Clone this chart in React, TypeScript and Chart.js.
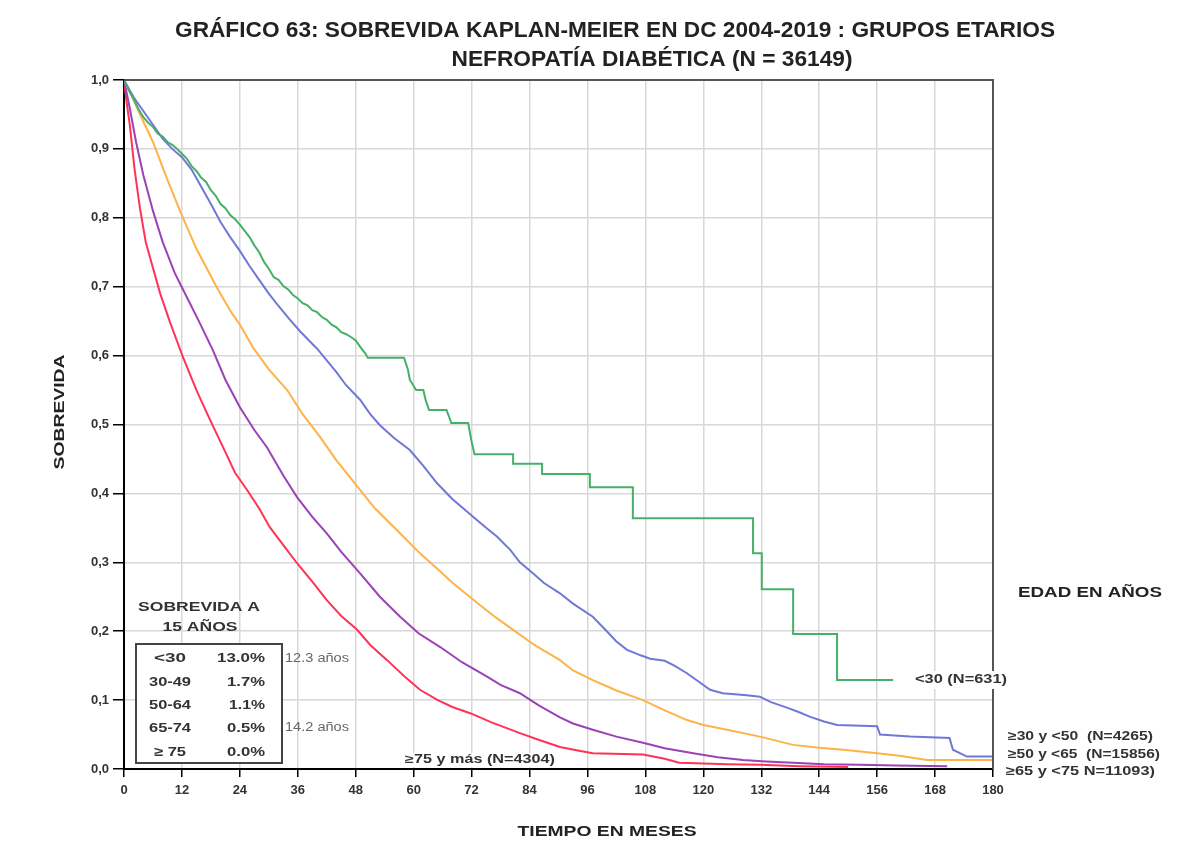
import React, { useEffect, useRef } from 'react';
import { Chart, registerables } from 'chart.js';

Chart.register(...registerables);

// ---- Data (months, survival) ----
const greenT = [0,1,2,3,4,5,6,7,8,9,10,11,12,13,14,15,16,17,18,19,20,21,22,23,24,25,26,27,28,29,30,31,32,33,34,35,36,37,38,39,40,41,42,43,44,45,46,47,48,49,50,50.5,58,58.8,59.2,60.5,62,62.5,63.2,66.8,67.3,67.8,71.3,71.6,72,72.6,80.6,80.6,86.6,86.6,96.5,96.5,105.4,105.4,130.3,130.3,132.1,132.1,138.6,138.6,147.7,147.7,159.3];
const greenS = [1.0,0.985,0.972,0.958,0.946,0.938,0.932,0.922,0.918,0.91,0.906,0.9,0.893,0.886,0.875,0.868,0.858,0.852,0.84,0.832,0.82,0.814,0.804,0.798,0.79,0.781,0.772,0.76,0.75,0.736,0.726,0.714,0.71,0.701,0.696,0.688,0.683,0.676,0.673,0.666,0.663,0.656,0.652,0.645,0.641,0.634,0.631,0.627,0.622,0.612,0.603,0.597,0.597,0.58,0.565,0.55,0.55,0.535,0.521,0.521,0.512,0.502,0.502,0.49,0.475,0.457,0.457,0.443,0.443,0.428,0.428,0.409,0.409,0.364,0.364,0.313,0.313,0.261,0.261,0.196,0.196,0.129,0.129];

const blueT = [0,2,4,6,8,10,12,14,16,18,20,22,24,26,28,30,32,34,36.5,40,44,46,48.9,51,53,56,59.2,62,64.8,68,72.3,75,77.3,80,82,84.7,87,90.3,93,97.1,100,102,104.2,107,109,112,114,116.6,119,121.4,124,129,131.7,134,137.3,140,142,145,147.7,156,156.6,162.8,171,171.7,174.6,180];
const blueS = [1.0,0.975,0.955,0.935,0.915,0.9,0.888,0.87,0.845,0.82,0.794,0.772,0.752,0.73,0.71,0.69,0.672,0.655,0.635,0.61,0.576,0.557,0.536,0.515,0.499,0.48,0.463,0.44,0.415,0.392,0.366,0.35,0.337,0.318,0.3,0.284,0.27,0.255,0.24,0.221,0.2,0.185,0.173,0.165,0.16,0.157,0.15,0.139,0.127,0.115,0.11,0.107,0.105,0.097,0.089,0.082,0.076,0.069,0.064,0.062,0.05,0.047,0.045,0.028,0.018,0.018];

const orangeT = [0,1.2,3,6,9,11.6,15,19.3,22,24,26.7,30,33.8,37,40.6,44,48.9,52,56.5,61.3,65,68.1,73.7,77,80.6,85,90.3,93,97.1,102,107.5,112,116.6,120,124.9,131.7,138.6,144,149,156,161,166.3,180];
const orangeS = [1.0,0.983,0.955,0.91,0.855,0.81,0.755,0.698,0.665,0.645,0.612,0.58,0.55,0.515,0.482,0.448,0.405,0.378,0.347,0.313,0.29,0.27,0.238,0.22,0.202,0.18,0.158,0.143,0.129,0.114,0.1,0.085,0.071,0.064,0.057,0.047,0.035,0.031,0.028,0.023,0.019,0.013,0.013];

const purpleT = [0,1.2,2.5,4,6,8,10.5,13,15.5,18.4,21,24,27,29.6,33,35.8,39,42,45,48.9,53,57.2,61,65.5,70,75.2,78,82,86,90.3,93,97.1,102,107.5,112,117.9,123,128.2,133,138.6,145,152.4,160,170.5];
const purpleS = [1.0,0.959,0.91,0.862,0.81,0.765,0.72,0.685,0.65,0.608,0.565,0.525,0.492,0.467,0.426,0.395,0.366,0.342,0.315,0.284,0.25,0.221,0.197,0.177,0.155,0.134,0.122,0.11,0.092,0.075,0.066,0.057,0.047,0.038,0.03,0.023,0.017,0.013,0.011,0.009,0.007,0.006,0.005,0.004];

const redT = [0,0.6,1.2,2.2,3.3,4.5,6,7.5,9.5,12.2,15,17.8,21,23,25.5,28,30.2,33,35.8,39,42,45,48.3,51,54.5,58,61.3,65,68,71.7,76,82,86,90.3,94,97.1,107.5,112,115,125,131.7,140,150];
const redS = [1.0,0.965,0.935,0.87,0.814,0.765,0.727,0.69,0.649,0.598,0.55,0.507,0.46,0.43,0.405,0.378,0.351,0.325,0.299,0.272,0.245,0.222,0.202,0.18,0.158,0.135,0.115,0.1,0.09,0.081,0.068,0.052,0.042,0.032,0.027,0.023,0.021,0.015,0.009,0.007,0.006,0.004,0.003];

const seriesNames = ['<30', '≥30 y <50', '≥50 y <65', '≥65 y <75', '≥75'];
const seriesColors = ['#45b068', '#7078d6', '#fdb347', '#9b42b6', '#ff3355'];

const tableAges = ['<30', '30-49', '50-64', '65-74', '≥ 75'];
const tableSurv = ['13.0%', '1.7%', '1.1%', '0.5%', '0.0%'];
const rightLabels = ['≥30 y <50  (N=4265)', '≥50 y <65  (N=15856)', '≥65 y <75 N=11093)'];

const xTicks = [0, 12, 24, 36, 48, 60, 72, 84, 96, 108, 120, 132, 144, 156, 168, 180];

const FONT = '"Liberation Sans", Arial, sans-serif';

function fitText(ctx: CanvasRenderingContext2D, s: string, x: number, y: number, w: number, font: string, color = '#222', align = 'center') {
  ctx.save();
  ctx.font = font;
  ctx.fillStyle = color;
  ctx.textBaseline = 'middle';
  ctx.textAlign = 'left';
  const m = ctx.measureText(s).width;
  const k = w / m;
  const x0 = align === 'center' ? x - w / 2 : align === 'right' ? x - w : x;
  ctx.translate(x0, y);
  ctx.scale(k, 1);
  ctx.fillText(s, 0, 0);
  ctx.restore();
}

const decor = {
  id: 'decor',
  afterDraw(chart: any) {
    const ctx = chart.ctx as CanvasRenderingContext2D;
    const a = chart.chartArea;
    ctx.save();
    // top & right frame
    ctx.strokeStyle = '#555';
    ctx.lineWidth = 2;
    ctx.beginPath();
    ctx.moveTo(a.left, a.top);
    ctx.lineTo(a.right, a.top);
    ctx.lineTo(a.right, a.bottom);
    ctx.stroke();

    // title
    fitText(ctx, 'GRÁFICO 63: SOBREVIDA KAPLAN-MEIER EN DC 2004-2019 : GRUPOS ETARIOS', 615, 31, 880, `bold 22px ${FONT}`, '#222');
    fitText(ctx, 'NEFROPATÍA DIABÉTICA (N = 36149)', 652, 60, 401, `bold 22px ${FONT}`, '#222');

    // axis titles
    fitText(ctx, 'TIEMPO EN MESES', 607, 832, 179, `bold 14px ${FONT}`, '#222');
    ctx.save();
    ctx.translate(60, 412);
    ctx.rotate(-Math.PI / 2);
    fitText(ctx, 'SOBREVIDA', 0, 0, 115, `bold 14px ${FONT}`, '#222');
    ctx.restore();

    // survival table
    fitText(ctx, 'SOBREVIDA A', 199, 607, 122, `bold 13px ${FONT}`, '#333');
    fitText(ctx, '15 AÑOS', 200, 627, 75, `bold 13px ${FONT}`, '#333');
    ctx.fillStyle = '#fff';
    ctx.fillRect(136, 644, 146, 119);
    ctx.strokeStyle = '#444';
    ctx.lineWidth = 2;
    ctx.strokeRect(136, 644, 146, 119);
    const rowY = [658, 682, 705, 728, 752];
    const ageW = [32, 42, 42, 42, 32];
    const survW = [48, 38, 36, 38, 38];
    tableAges.forEach((t, i) => {
      fitText(ctx, t, 170, rowY[i], ageW[i], `bold 13px ${FONT}`, '#333');
      fitText(ctx, tableSurv[i], 265, rowY[i], survW[i], `bold 13px ${FONT}`, '#333', 'right');
    });
    fitText(ctx, '12.3 años', 285, 659, 64, `12px ${FONT}`, '#666', 'left');
    fitText(ctx, '14.2 años', 285, 728, 64, `12px ${FONT}`, '#666', 'left');

    // series labels
    ctx.fillStyle = '#fff';
    ctx.fillRect(404, 753, 153, 14);
    fitText(ctx, '≥75 y más (N=4304)', 405, 760, 150, `bold 12px ${FONT}`, '#333', 'left');
    ctx.fillStyle = '#fff';
    ctx.fillRect(910, 671, 100, 18);
    fitText(ctx, '<30 (N=631)', 915, 680, 92, `bold 12px ${FONT}`, '#333', 'left');
    fitText(ctx, 'EDAD EN AÑOS', 1018, 593, 144, `bold 14px ${FONT}`, '#222', 'left');
    const rY = [737, 755, 772];
    const rW = [145, 152, 149];
    const rX = [1008, 1008, 1006];
    rightLabels.forEach((t, i) => fitText(ctx, t, rX[i], rY[i], rW[i], `bold 12.5px ${FONT}`, '#333', 'left'));
    ctx.restore();
  },
};

function mk(ts: number[], ss: number[]) {
  return ts.map((t, i) => ({ x: t, y: ss[i] }));
}

export default function App() {
  const ref = useRef<HTMLCanvasElement | null>(null);
  useEffect(() => {
    document.body.style.margin = '0';
    const series = [
      { t: greenT, s: greenS },
      { t: blueT, s: blueS },
      { t: orangeT, s: orangeS },
      { t: purpleT, s: purpleS },
      { t: redT, s: redS },
    ];
    const chart = new Chart(ref.current as HTMLCanvasElement, {
      type: 'line',
      data: {
        datasets: series.map((d, i) => ({
          label: seriesNames[i],
          data: mk(d.t, d.s),
          borderColor: seriesColors[i],
          backgroundColor: seriesColors[i],
          borderWidth: 2,
          pointRadius: 0,
          tension: 0,
          fill: false,
        })),
      },
      options: {
        responsive: false,
        animation: false,
        layout: { padding: { top: 80, right: 207, bottom: 43, left: 0 } },
        plugins: { legend: { display: false }, title: { display: false }, tooltip: { enabled: false } },
        scales: {
          x: {
            type: 'linear',
            min: 0,
            max: 180,
            afterBuildTicks: (s: any) => { s.ticks = xTicks.map((v) => ({ value: v })); },
            afterFit: (s: any) => { s.height = 30; },
            grid: { color: '#d8d8d8', lineWidth: 1.5, tickColor: '#000', tickLength: 8, tickWidth: 1.5 },
            border: { color: '#000', width: 2 },
            ticks: { color: '#333', font: { family: FONT, size: 13, weight: 'bold' }, padding: 6, maxRotation: 0, autoSkip: false },
          },
          y: {
            type: 'linear',
            min: 0,
            max: 1,
            afterFit: (s: any) => { s.width = 124; },
            grid: { color: '#d8d8d8', lineWidth: 1.5, tickColor: '#000', tickLength: 11, tickWidth: 1.5 },
            border: { color: '#000', width: 2 },
            ticks: {
              stepSize: 0.1,
              color: '#333',
              font: { family: FONT, size: 13, weight: 'bold' },
              padding: 4,
              callback: (v: any) => Number(v).toFixed(1).replace('.', ','),
            },
          },
        },
      },
      plugins: [decor],
    });
    return () => chart.destroy();
  }, []);
  return <canvas ref={ref} width={1200} height={842} style={{ display: 'block', width: 1200, height: 842 }} />;
}
